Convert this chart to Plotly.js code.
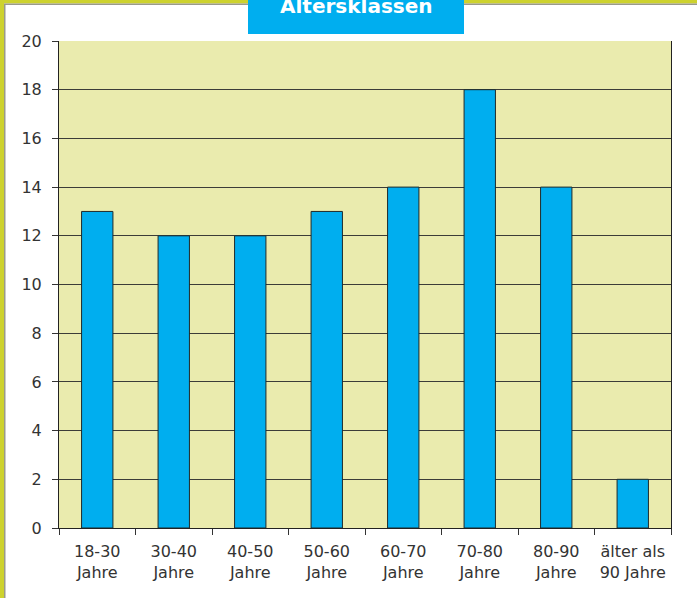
<!DOCTYPE html>
<html><head><meta charset="utf-8">
<script src="https://cdn.plot.ly/plotly-3.0.1.min.js"></script>
<style>html,body{margin:0;padding:0;background:#fff}#c{width:697px;height:598px}</style>
</head><body><div id="c"></div>
<script>
const categories = ["18-30<br>Jahre","30-40<br>Jahre","40-50<br>Jahre","50-60<br>Jahre","60-70<br>Jahre","70-80<br>Jahre","80-90<br>Jahre","älter als<br>90 Jahre"];
const values = [13,12,12,13,14,18,14,2];
const yTicks = [0,2,4,6,8,10,12,14,16,18,20];
const chartTitle = "Altersklassen";

const W=697,H=598,L=59,R=26,T=41,B=70;
const pw=W-L-R, ph=H-T-B;
const px=x=>(x-L)/pw, py=y=>(H-B-y)/ph;
const FONT='"DejaVu Sans", sans-serif';

const trace = {type:'bar', x:categories, y:values,
  marker:{color:'#00AEEF', line:{color:'#1f2a2a', width:1}}, hoverinfo:'none'};

const layout = {
  width:W, height:H, margin:{l:L,r:R,t:T,b:B,pad:0},
  paper_bgcolor:'#ffffff', plot_bgcolor:'#EAEBAE',
  font:{family:FONT, size:16, color:'#333333'},
  showlegend:false, bargap:0.59,
  xaxis:{type:'category', tickson:'boundaries', ticks:'outside', ticklen:6, tickcolor:'#333',
    showline:true, linecolor:'#222', linewidth:1, showgrid:false, fixedrange:true,
    tickfont:{size:16}, ticklabelstandoff:9},
  yaxis:{range:[0,20], tickvals:yTicks, ticks:'outside', ticklen:6, tickcolor:'#333',
    showline:true, mirror:true, linecolor:'#222', linewidth:1,
    showgrid:true, gridcolor:'#3c3c38', gridwidth:1, zeroline:false, fixedrange:true,
    tickfont:{size:16}, ticklabelstandoff:7},
  shapes:[
    {type:'rect', xref:'paper', yref:'paper', x0:px(0), x1:px(697), y0:py(0), y1:py(3.5), fillcolor:'#CDD22E', line:{width:0}, layer:'below'},
    {type:'rect', xref:'paper', yref:'paper', x0:px(0), x1:px(697), y0:py(3.5), y1:py(5), fillcolor:'#9a9a8a', line:{width:0}, layer:'below'},
    {type:'rect', xref:'paper', yref:'paper', x0:px(0), x1:px(4), y0:py(0), y1:py(598), fillcolor:'#CDD22E', line:{width:0}, layer:'below'},
    {type:'rect', xref:'paper', yref:'paper', x0:px(4), x1:px(5.5), y0:py(4), y1:py(598), fillcolor:'#9a9a8a', line:{width:0}, layer:'below'},
    {type:'rect', xref:'paper', yref:'paper', x0:px(248), x1:px(464), y0:py(0), y1:py(34), fillcolor:'#00AEEF', line:{width:0}, layer:'above'}
  ],
  annotations:[
    {text:'<b>'+chartTitle+'</b>', xref:'paper', yref:'paper', x:px(356), y:py(6), xanchor:'center', yanchor:'middle',
     showarrow:false, font:{size:20, color:'#ffffff', family:FONT}}
  ]
};
Plotly.newPlot('c',[trace],layout,{staticPlot:true});
</script></body></html>
